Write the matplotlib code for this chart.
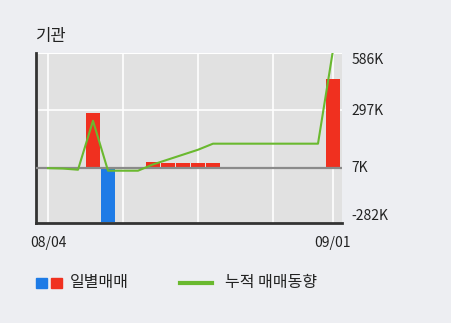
import matplotlib
matplotlib.use("Agg")
import matplotlib.pyplot as plt
from matplotlib.patches import Rectangle
from matplotlib.lines import Line2D

plt.rcParams['font.family'] = ['Noto Sans CJK KR', 'DejaVu Sans']

# trading days 08/04 .. 09/01 (08/15 holiday)
dates = ['08/04', '08/05', '08/06', '08/07', '08/08', '08/11', '08/12', '08/13',
         '08/14', '08/18', '08/19', '08/20', '08/21', '08/22', '08/25', '08/26',
         '08/27', '08/28', '08/29', '09/01']
# daily net buying (thousand shares)
daily = [0, -3, -5, 280, -275, 0, 0, 32, 25, 25, 25, 25, 0, 0, 0, 0, 0, 0, 0, 453]
# cumulative trend (thousand shares)
cumul = [-2, -4, -10, 240, -15, -15, -15, 17, 42, 67, 92, 123, 123, 123, 123,
         123, 123, 123, 123, 600]
ytick_vals = [-282, 7, 297, 586]
ytick_text = ['-282K', '7K', '297K', '586K']
xtick_idx = [0, 19]

red = '#F0301F'
blue = '#1E7BE6'
green = '#6AB92F'

W, H = 451, 323
fig = plt.figure(figsize=(W / 100, H / 100), dpi=100)
fig.patch.set_facecolor('#EDEEF2')

ax = fig.add_axes([36 / W, 1 - 223 / H, 306 / W, 170 / H])
ax.set_facecolor('#E1E1E1')

x = list(range(len(dates)))
colors = [red if v >= 0 else blue for v in daily]
ax.bar(x, daily, width=0.87, color=colors, zorder=2)
ax.axhline(0, color='#8A8A8A', lw=1.6, zorder=3)
ax.plot(x, cumul, color=green, lw=1.5, zorder=4)

ax.set_xlim(-0.8, 19.6)
ax.set_ylim(-282, 586)

# grid
for i in [0, 5, 10, 15, 19]:
    ax.axvline(i, color='white', lw=1.2, zorder=1)
ax.axhline(297, color='white', lw=1.2, zorder=1)
ax.axhline(586, color='white', lw=1.5, zorder=1)

ax.set_xticks(xtick_idx)
ax.set_xticklabels([dates[i] for i in xtick_idx])
ax.yaxis.tick_right()
ax.set_yticks(ytick_vals)
ax.set_yticklabels(ytick_text)
ax.tick_params(axis='both', length=0, labelsize=10, colors='#222222')
ax.tick_params(axis='x', pad=9)
ax.tick_params(axis='y', pad=7)
labels = ax.get_yticklabels()
labels[0].set_va('bottom')
labels[-1].set_va('top')

for s in ['top', 'right']:
    ax.spines[s].set_visible(False)
for s in ['left', 'bottom']:
    ax.spines[s].set_color('#333333')
    ax.spines[s].set_linewidth(2)

fig.text(36 / W, 1 - 37 / H, '기관', fontsize=12, va='center', ha='left', color='#222222')

# legend
ly = 1 - 283 / H
fig.add_artist(Rectangle((36 / W, 1 - 288 / H), 11 / W, 10 / H, color=blue, transform=fig.transFigure))
fig.add_artist(Rectangle((51 / W, 1 - 288 / H), 11 / W, 10 / H, color=red, transform=fig.transFigure))
fig.text(70 / W, ly, '일별매매', fontsize=11.5, va='center', ha='left', color='#222222')
fig.add_artist(Line2D([180 / W, 212 / W], [ly, ly], color=green, lw=3, transform=fig.transFigure))
fig.text(225 / W, ly, '누적 매매동향', fontsize=11.5, va='center', ha='left', color='#222222')

fig.savefig('out.png', dpi=100, facecolor=fig.get_facecolor())
